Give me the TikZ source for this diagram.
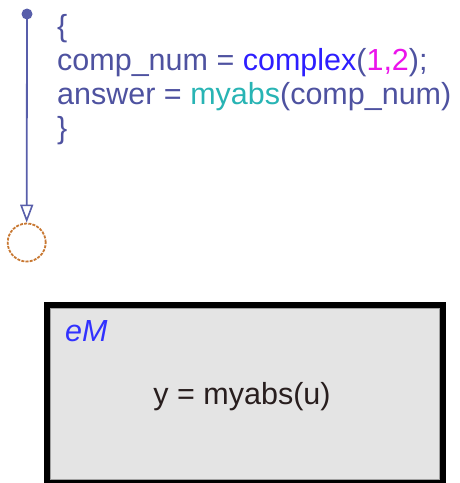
\documentclass[tikz,border=0pt]{standalone}
\usepackage{fontspec}
\setmainfont{Liberation Sans}
\usetikzlibrary{arrows.meta,calc}
\definecolor{lbl}{RGB}{78,82,160}
\definecolor{fnblue}{RGB}{45,30,255}
\definecolor{nummag}{RGB}{235,20,235}
\definecolor{fnteal}{RGB}{40,180,180}
\definecolor{trans}{RGB}{88,94,170}
\definecolor{junccol}{RGB}{200,120,50}
\definecolor{boxfill}{RGB}{228,228,228}
\definecolor{boxinner}{RGB}{160,160,160}
\definecolor{emtext}{RGB}{40,30,30}
\definecolor{emname}{RGB}{50,50,255}
\begin{document}
\begin{tikzpicture}[x=1pt,y=-1pt,
  codetext/.style={anchor=base west,inner sep=0pt,text=lbl,font=\fontsize{30.5}{36}\selectfont},
  boxst/.style={fill=boxfill,minimum width=396pt,minimum height=178pt,inner sep=0pt,outer sep=0pt},
  junction/.style={circle,draw=junccol,line width=1.8pt,dash pattern=on 3pt off 1.2pt,minimum size=38pt,inner sep=0pt},
  defdot/.style={circle,fill=trans,minimum size=11pt,inner sep=0pt},
  transline/.style={draw=trans,line width=1.8pt,-{Triangle[open,length=18pt,width=13pt,line width=1.6pt]}}]
\useasboundingbox (0,0) rectangle (460,483);
% box
\node[boxst] (eMbox) at (244.5,394) {};
\draw[boxinner,line width=1pt] ($(eMbox.north west)+(3.5,3.5)$) rectangle ($(eMbox.south east)+(-3.5,-3.5)$);
\draw[black,line width=6pt] (eMbox.north west) rectangle (eMbox.south east);
\node[anchor=base west,inner sep=0pt,text=emname,font=\fontsize{30.5}{36}\selectfont\itshape] (emlabel) at (65,341) {eM};
\node[anchor=base,inner sep=0pt,text=emtext,font=\fontsize{30.5}{36}\selectfont] (embody) at (242,404) {y = myabs(u)};
% transition
\node[defdot] (dot) at (27,14) {};
\node[junction] (junc) at (26.7,242.5) {};
\draw[transline] (dot.center) -- (junc.north);
% label
\node[codetext] (l1) at (57,36) {\{};
\node[codetext] (l2) at (57,70) {comp\_num = \textcolor{fnblue}{complex}(\textcolor{nummag}{1,2});};
\node[codetext] (l3) at (57,104) {answer = \textcolor{fnteal}{myabs}(comp\_num)};
\node[codetext] (l4) at (57,138) {\}};
\end{tikzpicture}
\end{document}
